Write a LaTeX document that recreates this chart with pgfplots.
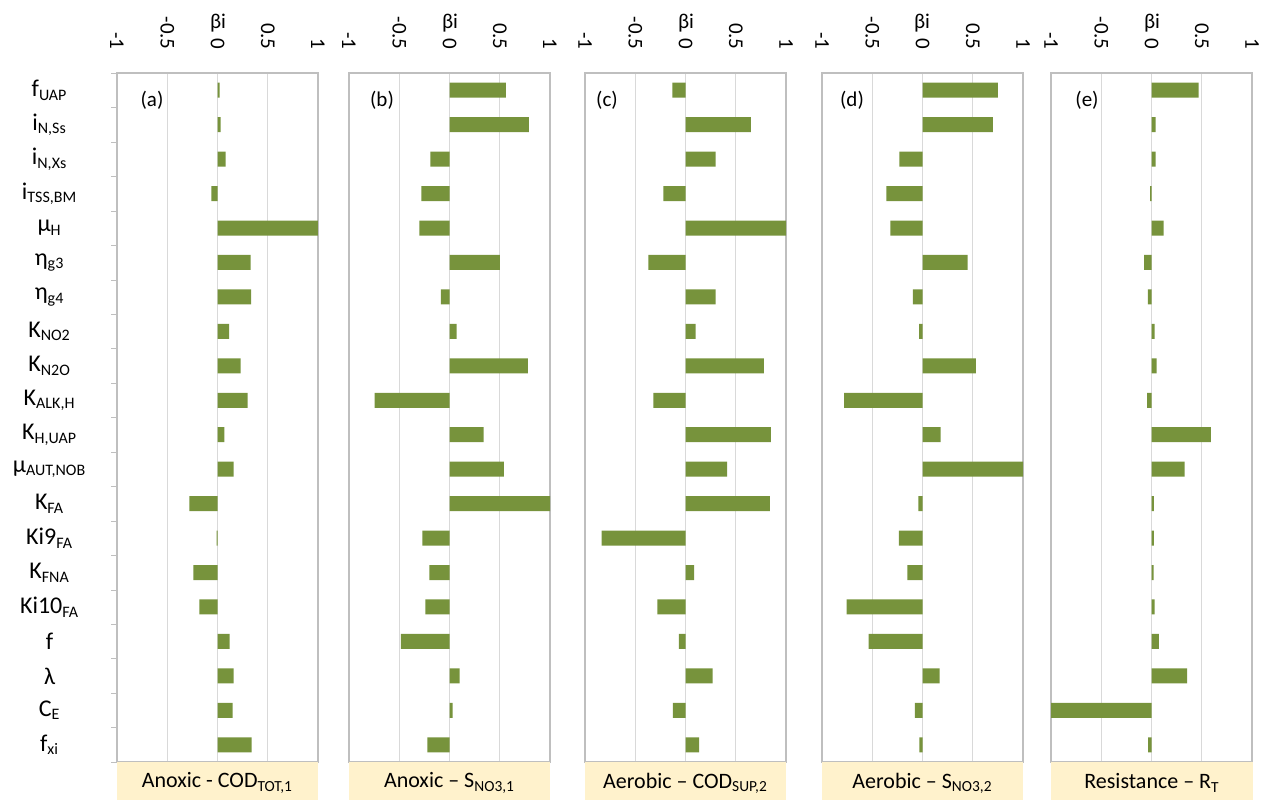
\documentclass[border=0pt]{standalone}
\usepackage{fontspec}
\setmainfont{Carlito}
\usepackage{pgfplots}
\usepackage{pgfplotstable}
\pgfplotsset{compat=1.18}
\definecolor{barc}{HTML}{77933C}
\definecolor{gridc}{HTML}{D9D9D9}
\definecolor{framec}{HTML}{BFBFBF}
\definecolor{beige}{HTML}{FFF2CC}
\newcommand{\fs}{\fontsize{10.5pt}{12pt}\selectfont}
\newcommand{\fl}{\fontsize{12pt}{14pt}\selectfont}
\newcommand{\ft}{\fontsize{11pt}{13pt}\selectfont}

\pgfplotstableread{
idx a b c d e
1 0.02 0.56 -0.13 0.75 0.47
2 0.03 0.79 0.65 0.70 0.04
3 0.08 -0.19 0.30 -0.23 0.04
4 -0.06 -0.28 -0.22 -0.36 -0.013
5 1.0 -0.30 1.0 -0.32 0.12
6 0.33 0.50 -0.37 0.45 -0.073
7 0.335 -0.086 0.30 -0.096 -0.036
8 0.116 0.07 0.10 -0.033 0.03
9 0.23 0.78 0.78 0.53 0.05
10 0.30 -0.744 -0.32 -0.78 -0.043
11 0.068 0.34 0.85 0.18 0.59
12 0.16 0.54 0.415 1.0 0.33
13 -0.28 1.0 0.84 -0.04 0.023
14 -0.008 -0.27 -0.834 -0.235 0.023
15 -0.24 -0.20 0.086 -0.15 0.02
16 -0.18 -0.24 -0.28 -0.755 0.03
17 0.12 -0.485 -0.066 -0.536 0.073
18 0.16 0.10 0.27 0.17 0.354
19 0.15 0.03 -0.126 -0.076 -1.0
20 0.34 -0.22 0.136 -0.03 -0.033
}\data

\pgfplotsset{panel/.style={
  scale only axis, width=100.5pt, height=344.5pt,
  anchor=north west,
  xmin=-1, xmax=1, ymin=0.5, ymax=20.5, y dir=reverse,
  xtick={-1,-0.5,0,0.5,1}, xticklabels={-1,-0.5,0,0.5,1},
  xticklabel pos=upper,
  xticklabel style={rotate=-90, anchor=east, inner sep=0pt, font=\fs},
  xticklabel shift=11.5pt,
  xmajorgrids, grid style={gridc, line width=0.6pt},
  axis line style={framec, line width=0.6pt},
  major tick length=0pt,
  xbar, bar width=7.5pt,
  ytick=\empty,
}}

\begin{document}
\begin{tikzpicture}
\path[use as bounding box] (0,0) rectangle (631.5pt,-400pt);

\begin{axis}[panel, at={(58.5pt,-36.5pt)},
  ytick={1,...,20},
  yticklabels={f\textsubscript{UAP}, i\textsubscript{N,Ss}, i\textsubscript{N,Xs}, i\textsubscript{TSS,BM}, μ\textsubscript{H}, η\textsubscript{g3}, η\textsubscript{g4}, K\textsubscript{NO2}, K\textsubscript{N2O}, K\textsubscript{ALK,H}, K\textsubscript{H,UAP}, μ\textsubscript{AUT,NOB}, K\textsubscript{FA}, Ki9\textsubscript{FA}, K\textsubscript{FNA}, Ki10\textsubscript{FA}, f, λ, C\textsubscript{E}, f\textsubscript{xi}},
  yticklabel style={anchor=east, inner sep=0pt, text width=50pt, align=center, xshift=-8.5pt, font=\fl},
  minor ytick={0.5,1.5,...,20.5}, minor tick length=3pt,
  minor tick style={framec}, tick pos=left, tick align=outside,
]
\addplot[fill=barc, draw=none] table[x=a, y=idx]{\data};
\end{axis}

\begin{axis}[panel, at={(174.5pt,-36.5pt)}]
\addplot[fill=barc, draw=none] table[x=b, y=idx]{\data};
\end{axis}

\begin{axis}[panel, at={(292.5pt,-36.5pt)}]
\addplot[fill=barc, draw=none] table[x=c, y=idx]{\data};
\end{axis}

\begin{axis}[panel, at={(411pt,-36.5pt)}]
\addplot[fill=barc, draw=none] table[x=d, y=idx]{\data};
\end{axis}

\begin{axis}[panel, at={(525.5pt,-36.5pt)}]
\addplot[fill=barc, draw=none] table[x=e, y=idx]{\data};
\end{axis}

\begin{scope}[x=0.5pt, y=-0.5pt, every node/.style={font=\fs}]
  % beta labels
  \foreach \cx in {218,450,686,922,1152}
    \node[anchor=base, inner sep=0pt] at (\cx,28) {βi};
  % panel letters
  \node at (152,100) {(a)};
  \node at (382,100) {(b)};
  \node at (607,100) {(c)};
  \node at (852,100) {(d)};
  \node at (1087,100) {(e)};
  % bottom title boxes
  \fill[beige] (117,762) rectangle (318,800);
  \fill[beige] (349,762) rectangle (550,800);
  \fill[beige] (585,762) rectangle (786,800);
  \fill[beige] (822,762) rectangle (1023,800);
  \fill[beige] (1051,762) rectangle (1253,800);
  \node[font=\ft] at (217.5,783) {Anoxic - COD\textsubscript{TOT,1}};
  \node[font=\ft] at (449.5,783) {Anoxic – S\textsubscript{NO3,1}};
  \node[font=\ft] at (685.5,783) {Aerobic – COD\textsubscript{SUP,2}};
  \node[font=\ft] at (922.5,783) {Aerobic – S\textsubscript{NO3,2}};
  \node[font=\ft] at (1152,783) {Resistance – R\textsubscript{T}};
\end{scope}
\end{tikzpicture}
\end{document}
